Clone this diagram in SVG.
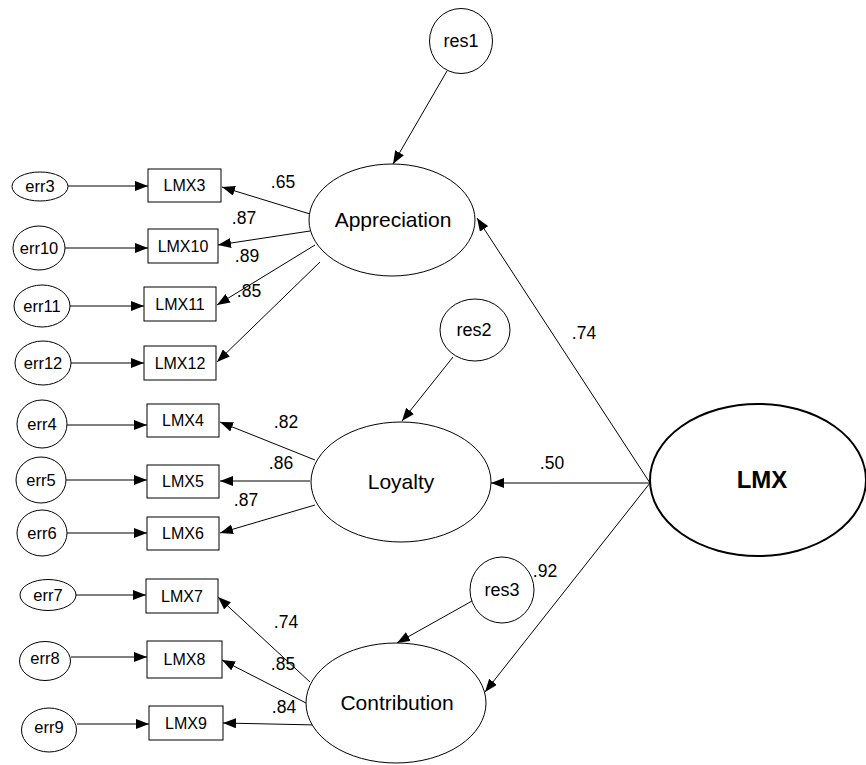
<svg xmlns="http://www.w3.org/2000/svg" width="866" height="765" viewBox="0 0 866 765">
  <style>
    text { font-family: "Liberation Sans", Arial, sans-serif; fill: #000; text-anchor: middle; }
    .shape { fill: #fff; stroke: #000; stroke-width: 1; }
    .lmx { fill: #fff; stroke: #000; stroke-width: 2; }
    .edge { stroke: #000; stroke-width: 1; fill: none; marker-end: url(#head); }
    .obs { font-size: 16px; }
    .err { font-size: 16.5px; }
    .res { font-size: 18px; }
    .lat { font-size: 21px; }
    .coef { font-size: 17.5px; }
    .big { font-size: 24px; font-weight: bold; }
  </style>
  <defs>
    <marker id="head" viewBox="0 0 13 10" refX="13" refY="5" markerWidth="13" markerHeight="10" markerUnits="userSpaceOnUse" orient="auto">
      <path d="M0,0 L13,5 L0,10 z" fill="#000"/>
    </marker>
  </defs>
  <rect width="866" height="765" fill="#fff"/>

  <!-- connectors -->
  <g id="connectors">
    <!-- error terms to indicators -->
    <line class="edge" x1="68" y1="186" x2="148" y2="186"/>
    <line class="edge" x1="65" y1="248" x2="148" y2="248"/>
    <line class="edge" x1="70" y1="306" x2="144" y2="306"/>
    <line class="edge" x1="71" y1="363" x2="144" y2="363"/>
    <line class="edge" x1="67" y1="425" x2="147" y2="425"/>
    <line class="edge" x1="66" y1="480" x2="147" y2="480"/>
    <line class="edge" x1="67" y1="533" x2="147" y2="533"/>
    <line class="edge" x1="76" y1="595" x2="146" y2="595"/>
    <line class="edge" x1="71" y1="657" x2="147" y2="657"/>
    <line class="edge" x1="77" y1="724" x2="149" y2="724"/>
    <!-- factor loadings -->
    <line class="edge" x1="310" y1="214" x2="222" y2="187"/>
    <line class="edge" x1="310" y1="231" x2="218" y2="245"/>
    <line class="edge" x1="315" y1="245" x2="217" y2="305"/>
    <line class="edge" x1="320" y1="262" x2="217" y2="362"/>
    <line class="edge" x1="315" y1="460" x2="220" y2="422"/>
    <line class="edge" x1="310" y1="481" x2="220" y2="481"/>
    <line class="edge" x1="315" y1="505" x2="220" y2="533"/>
    <line class="edge" x1="310" y1="682" x2="218" y2="597"/>
    <line class="edge" x1="306" y1="703" x2="222" y2="660"/>
    <line class="edge" x1="317" y1="725" x2="223" y2="723"/>
    <!-- second-order paths -->
    <line class="edge" x1="650" y1="483" x2="477" y2="218"/>
    <line class="edge" x1="650" y1="483" x2="491" y2="483"/>
    <line class="edge" x1="650" y1="483" x2="485" y2="692"/>
    <!-- residuals -->
    <line class="edge" x1="447" y1="71" x2="393" y2="164"/>
    <line class="edge" x1="453" y1="357" x2="402" y2="421"/>
    <line class="edge" x1="472" y1="601" x2="397" y2="643"/>
    <!-- coefficients -->
    <g class="coef">
      <text x="283" y="182" dy=".35em">.65</text>
      <text x="244" y="218" dy=".35em">.87</text>
      <text x="247" y="256" dy=".35em">.89</text>
      <text x="249" y="291" dy=".35em">.85</text>
      <text x="286" y="422" dy=".35em">.82</text>
      <text x="281" y="463" dy=".35em">.86</text>
      <text x="246" y="500" dy=".35em">.87</text>
      <text x="286" y="622" dy=".35em">.74</text>
      <text x="283" y="664" dy=".35em">.85</text>
      <text x="284" y="707" dy=".35em">.84</text>
      <text x="584" y="333" dy=".35em">.74</text>
      <text x="552" y="463" dy=".35em">.50</text>
      <text x="545" y="571" dy=".35em">.92</text>
    </g>
  </g>

  <!-- error terms -->
  <g id="err3"><ellipse class="shape" cx="40" cy="186.5" rx="28" ry="14.5"/><text class="err" x="40" y="186" dy=".35em">err3</text></g>
  <g id="err10"><ellipse class="shape" cx="39" cy="248" rx="26" ry="22"/><text class="err" x="39" y="248" dy=".35em">err10</text></g>
  <g id="err11"><ellipse class="shape" cx="42" cy="306" rx="28" ry="21"/><text class="err" x="42" y="306" dy=".35em">err11</text></g>
  <g id="err12"><ellipse class="shape" cx="43" cy="363" rx="28" ry="22"/><text class="err" x="43" y="363" dy=".35em">err12</text></g>
  <g id="err4"><ellipse class="shape" cx="42" cy="424" rx="25" ry="24"/><text class="err" x="42" y="424" dy=".35em">err4</text></g>
  <g id="err5"><ellipse class="shape" cx="41" cy="480" rx="25" ry="23"/><text class="err" x="41" y="480" dy=".35em">err5</text></g>
  <g id="err6"><ellipse class="shape" cx="42" cy="533" rx="25" ry="23"/><text class="err" x="42" y="533" dy=".35em">err6</text></g>
  <g id="err7"><ellipse class="shape" cx="48" cy="595" rx="28" ry="15.5"/><text class="err" x="48" y="595" dy=".35em">err7</text></g>
  <g id="err8"><ellipse class="shape" cx="45" cy="661" rx="25.5" ry="19.5"/><text class="err" x="45" y="658" dy=".35em">err8</text></g>
  <g id="err9"><ellipse class="shape" cx="49" cy="730" rx="27.5" ry="22"/><text class="err" x="49" y="727" dy=".35em">err9</text></g>

  <!-- indicators -->
  <g id="LMX3"><rect class="shape" x="148" y="169" width="73" height="33"/><text class="obs" x="184.5" y="185.5" dy=".35em">LMX3</text></g>
  <g id="LMX10"><rect class="shape" x="148" y="229" width="70" height="34"/><text class="obs" x="183" y="246" dy=".35em">LMX10</text></g>
  <g id="LMX11"><rect class="shape" x="144" y="287" width="72" height="34"/><text class="obs" x="180" y="304" dy=".35em">LMX11</text></g>
  <g id="LMX12"><rect class="shape" x="144" y="346" width="72" height="34"/><text class="obs" x="180" y="363" dy=".35em">LMX12</text></g>
  <g id="LMX4"><rect class="shape" x="147" y="404" width="72" height="33"/><text class="obs" x="183" y="420.5" dy=".35em">LMX4</text></g>
  <g id="LMX5"><rect class="shape" x="147" y="465" width="72" height="33"/><text class="obs" x="183" y="481.5" dy=".35em">LMX5</text></g>
  <g id="LMX6"><rect class="shape" x="147" y="517" width="72" height="33"/><text class="obs" x="183" y="533.5" dy=".35em">LMX6</text></g>
  <g id="LMX7"><rect class="shape" x="146" y="579" width="72" height="34"/><text class="obs" x="182" y="596" dy=".35em">LMX7</text></g>
  <g id="LMX8"><rect class="shape" x="147" y="641" width="75" height="37"/><text class="obs" x="184.5" y="659.5" dy=".35em">LMX8</text></g>
  <g id="LMX9"><rect class="shape" x="149" y="706" width="74" height="34"/><text class="obs" x="186" y="723" dy=".35em">LMX9</text></g>

  <!-- residuals -->
  <g id="res1"><ellipse class="shape" cx="461" cy="41" rx="31.5" ry="32.5"/><text class="res" x="461" y="41" dy=".35em">res1</text></g>
  <g id="res2"><ellipse class="shape" cx="475" cy="330" rx="35" ry="31"/><text class="res" x="474" y="330" dy=".35em">res2</text></g>
  <g id="res3"><ellipse class="shape" cx="502" cy="590" rx="32" ry="33"/><text class="res" x="502" y="590" dy=".35em">res3</text></g>

  <!-- first-order factors -->
  <g id="Appreciation"><ellipse class="shape" cx="392" cy="220" rx="83" ry="56"/><text class="lat" x="393" y="220" dy=".35em">Appreciation</text></g>
  <g id="Loyalty"><ellipse class="shape" cx="401" cy="482" rx="90" ry="60"/><text class="lat" x="401" y="482" dy=".35em">Loyalty</text></g>
  <g id="Contribution"><ellipse class="shape" cx="396" cy="703" rx="90" ry="60"/><text class="lat" x="397" y="703" dy=".35em">Contribution</text></g>

  <!-- second-order factor -->
  <g id="LMX"><ellipse class="lmx" cx="758" cy="480" rx="108" ry="76"/><text class="big" x="762" y="480" dy=".35em">LMX</text></g>
</svg>
